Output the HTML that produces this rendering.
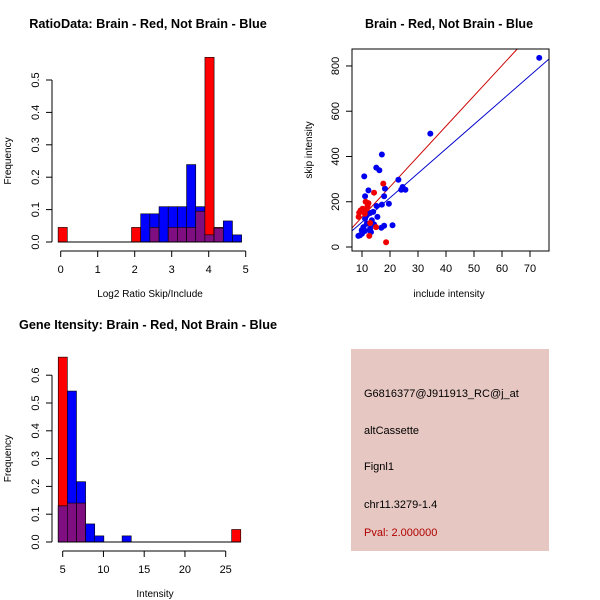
<!DOCTYPE html>
<html><head><meta charset="utf-8"><style>
body{margin:0;background:#fff;}
svg{display:block;font-family:"Liberation Sans",sans-serif;}
</style></head><body>
<svg id="c" width="600" height="600" xmlns="http://www.w3.org/2000/svg">
<rect width="600" height="600" fill="#fff"/>
<g id="g1"></g>
<g id="g2"></g>
<g id="g3"></g>
<g>
<rect x="351" y="349" width="198" height="202" fill="#e6c7c1"/>
<text x="364" y="397" font-size="11" fill="#000">G6816377@J911913_RC@j_at</text>
<text x="364" y="434" font-size="11" fill="#000">altCassette</text>
<text x="364" y="470" font-size="11" fill="#000">Fignl1</text>
<text x="364" y="508" font-size="11" fill="#000">chr11.3279-1.4</text>
<text x="364" y="536" font-size="11" fill="#b00000">Pval: 2.000000</text>
</g>
</svg>
<script>
// ---- Ratio histogram data ----
const ratioBinStart = -0.07, ratioBinWidth = 0.248;
const ratioRed  = [0.045,0,0,0,0,0,0,0,0.045,0,0.045,0,0.045,0.045,0.045,0.095,0.57,0.045,0,0];
const ratioBlue = [0,0,0,0,0,0,0,0,0,0.087,0.087,0.109,0.109,0.109,0.239,0.109,0.022,0.043,0.065,0.022];
const ratioXTicks = [0,1,2,3,4,5];
const ratioYTicks = ["0.0","0.1","0.2","0.3","0.4","0.5"];
// ---- Intensity histogram data ----
const intBinStart = 4.45, intBinWidth = 1.12;
const intRed  = [0.665,0.14,0.14,0,0,0,0,0,0,0,0,0,0,0,0,0,0,0,0,0.045];
const intBlue = [0.13,0.543,0.217,0.065,0.022,0,0,0.022,0,0,0,0,0,0,0,0,0,0,0,0];
const intXTicks = [5,10,15,20,25];
const intYTicks = ["0.0","0.1","0.2","0.3","0.4","0.5","0.6"];
// ---- Scatter data ----
const blueX = [73.3,34.4,17.1,15.1,16.2,10.8,23,24.5,24,25.5,18.2,12.3,11.1,17.9,15.2,17.1,19.6,15.5,14,12.9,11.7,11.1,13.5,14.3,20.9,17.9,16.9,12.9,13.2,11.1,10,9.3,8.7,10.5,11.7,9.9];
const blueY = [836,501,409,351,339,312,297,265,253,253,258,250,224,224,181,187,191,133,155,150,140,125,118,100,96,94,85,81,66,71,59,52,49,88,103,74];
const redX = [17.6,14.3,11.3,12.3,12,10.2,9.5,8.8,11,12.9,15,12.6,18.6,9,11.7];
const redY = [280,240,200,194,181,169,162,133,147,106,88,49,21,152,169];
const redFit = [-2,13.4], blueFit = [1.6,10.8];
const scXTicks = [10,20,30,40,50,60,70];
const scYTicks = [0,200,400,600,800];

const NS="http://www.w3.org/2000/svg";
function el(parent,tag,attrs,txt){const e=document.createElementNS(NS,tag);for(const k in attrs)e.setAttribute(k,attrs[k]);if(txt!==undefined)e.textContent=txt;parent.appendChild(e);return e;}

function hist(g,title,xlabel,bs,bw,red,blue,xt,yt,sx,sy,axisY,axisX,titleX,titleY,xlabX,xlabY){
  el(g,'text',{x:titleX,y:titleY,'font-size':12.7,'font-weight':'bold','text-anchor':'middle'},title);
  for(let i=0;i<red.length;i++){
    const a=sx(bs+i*bw), b=sx(bs+(i+1)*bw);
    const r=red[i], bl=blue[i];
    if(r>0){const e=el(g,'rect',{x:a,y:sy(r),width:b-a,height:sy(0)-sy(r),fill:'#ff0000',stroke:'#000','stroke-width':0.6});
      }
    if(bl>0){const e=el(g,'rect',{x:a,y:sy(bl),width:b-a,height:sy(0)-sy(bl),fill:'#0000ff',stroke:'#000','stroke-width':0.6});
      }
    const m=Math.min(r,bl);
    if(m>0){const e=el(g,'rect',{x:a,y:sy(m),width:b-a,height:sy(0)-sy(m),fill:'#7f0f80',stroke:'#000','stroke-width':0.6});
      }
  }
  el(g,'line',{x1:sx(bs),x2:sx(bs+red.length*bw),y1:sy(0),y2:sy(0),stroke:'#000'});
  el(g,'line',{x1:sx(xt[0]),x2:sx(xt[xt.length-1]),y1:axisY,y2:axisY,stroke:'#000'});
  xt.forEach(t=>{el(g,'line',{x1:sx(t),x2:sx(t),y1:axisY,y2:axisY+6,stroke:'#000'});
    el(g,'text',{x:sx(t),y:axisY+22,'font-size':11,'text-anchor':'middle'},t);});
  el(g,'line',{x1:axisX,x2:axisX,y1:sy(+yt[0]),y2:sy(+yt[yt.length-1]),stroke:'#000'});
  yt.forEach(t=>{const y=sy(+t);el(g,'line',{x1:axisX-6,x2:axisX,y1:y,y2:y,stroke:'#000'});
    el(g,'text',{x:axisX-13,y:y,'font-size':11,'text-anchor':'middle',transform:`rotate(-90 ${axisX-13} ${y})`},t);});
  el(g,'text',{x:xlabX,y:xlabY,'font-size':10,'text-anchor':'middle'},xlabel);
  const my=(sy(+yt[0])+sy(+yt[yt.length-1]))/2;
  el(g,'text',{x:11,y:my,'font-size':10,'text-anchor':'middle',transform:`rotate(-90 11 ${my})`},'Frequency');
}
hist(document.getElementById('g1'),'RatioData: Brain - Red, Not Brain - Blue','Log2 Ratio Skip/Include',
  ratioBinStart,ratioBinWidth,ratioRed,ratioBlue,ratioXTicks,ratioYTicks,
  v=>60.7+v*37, v=>242-v*324, 251,52,148,28,150,297);
hist(document.getElementById('g3'),'Gene Itensity: Brain - Red, Not Brain - Blue','Intensity',
  intBinStart,intBinWidth,intRed,intBlue,intXTicks,intYTicks,
  v=>62.7+(v-5)*8.15, v=>542-v*278, 551,52,148,329,155,597);

(function(){
  const g=document.getElementById('g2');
  const sx=v=>362+(v-10)*2.8, sy=v=>247-v*0.2263;
  el(g,'text',{x:449,y:28,'font-size':12.5,'font-weight':'bold','text-anchor':'middle'},'Brain - Red, Not Brain - Blue');
  const clip=el(g,'clipPath',{id:'scclip'});el(clip,'rect',{x:352,y:49,width:197,height:202});
  const lg=el(g,'g',{'clip-path':'url(#scclip)'});
  const xmin=(352-362)/2.8+10, xmax=(549-362)/2.8+10;
  [[redFit,'#cc0000','fit-line-red'],[blueFit,'#0000cc','fit-line-blue']].forEach(([f,c,n])=>{
    const e=el(lg,'line',{x1:sx(xmin),y1:sy(f[0]+f[1]*xmin),x2:sx(xmax),y2:sy(f[0]+f[1]*xmax),stroke:c,'stroke-width':1});
    });
  blueX.forEach((x,i)=>{const e=el(lg,'circle',{cx:sx(x),cy:sy(blueY[i]),r:3,fill:'#0000ee'});
    });
  redX.forEach((x,i)=>{const e=el(lg,'circle',{cx:sx(x),cy:sy(redY[i]),r:3,fill:'#ee0000'});
    });
  el(g,'rect',{x:352,y:49,width:197,height:202,fill:'none',stroke:'#000'});
  scXTicks.forEach(t=>{el(g,'line',{x1:sx(t),x2:sx(t),y1:251,y2:257,stroke:'#000'});
    el(g,'text',{x:sx(t),y:272,'font-size':11,'text-anchor':'middle'},t);});
  scYTicks.forEach(t=>{const y=sy(t);el(g,'line',{x1:346,x2:352,y1:y,y2:y,stroke:'#000'});
    el(g,'text',{x:339,y:y,'font-size':11,'text-anchor':'middle',transform:`rotate(-90 339 ${y})`},t);});
  el(g,'text',{x:449,y:297,'font-size':10,'text-anchor':'middle'},'include intensity');
  el(g,'text',{x:312,y:150,'font-size':10,'text-anchor':'middle',transform:'rotate(-90 312 150)'},'skip intensity');
})();
</script>
</body></html>
